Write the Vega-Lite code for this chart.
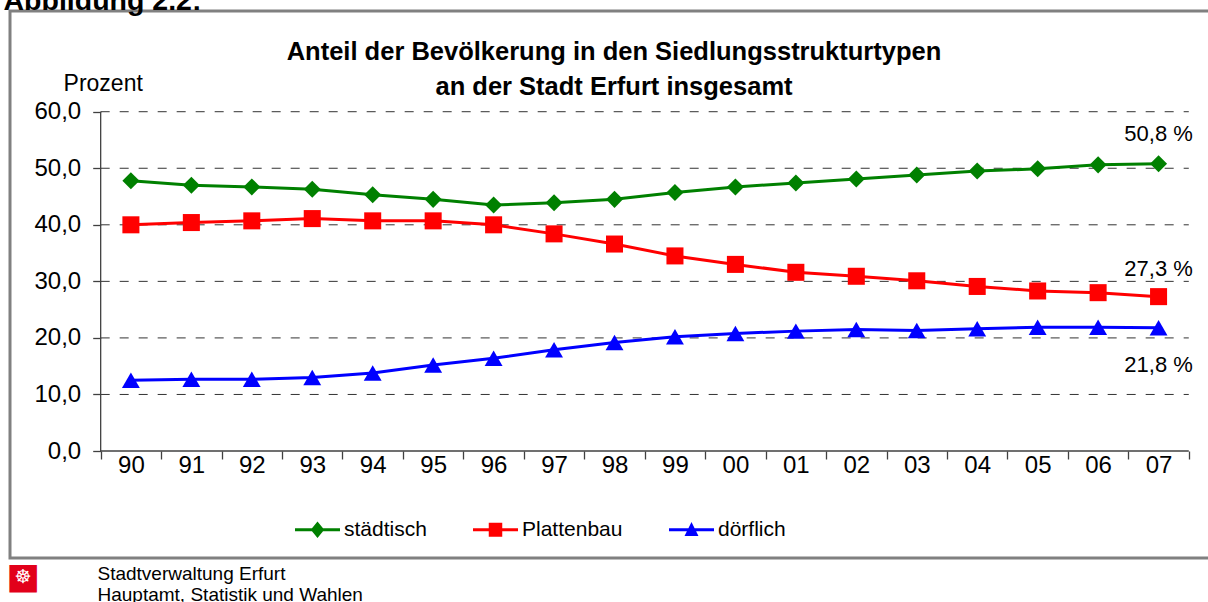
{
  "$schema": "https://vega.github.io/schema/vega-lite/v6.json",
  "width": 1215,
  "height": 547,
  "autosize": {"type": "none"},
  "padding": {"left": 10, "top": 11, "right": 0, "bottom": 44},
  "background": "white",
  "config": {
    "font": "Liberation Sans",
    "view": {"stroke": "#808080", "strokeWidth": 3},
    "locale": {"number": {"decimal": ",", "thousands": ".", "grouping": [3], "currency": ["", " %"]}}
  },
  "title": {
    "text": ["Anteil der Bevölkerung in den Siedlungsstrukturtypen", "an der Stadt Erfurt insgesamt"],
    "font": "Liberation Sans",
    "fontSize": 25.5,
    "fontWeight": "bold",
    "color": "black",
    "anchor": "start",
    "dx": 611,
    "align": "center",
    "lineHeight": 35,
    "offset": -114
  },
  "datasets": {
    "werte": [
      {"jahr": 1990, "typ": "städtisch", "wert": 47.8},
      {"jahr": 1991, "typ": "städtisch", "wert": 47.0},
      {"jahr": 1992, "typ": "städtisch", "wert": 46.7},
      {"jahr": 1993, "typ": "städtisch", "wert": 46.3},
      {"jahr": 1994, "typ": "städtisch", "wert": 45.3},
      {"jahr": 1995, "typ": "städtisch", "wert": 44.5},
      {"jahr": 1996, "typ": "städtisch", "wert": 43.5},
      {"jahr": 1997, "typ": "städtisch", "wert": 43.9},
      {"jahr": 1998, "typ": "städtisch", "wert": 44.5},
      {"jahr": 1999, "typ": "städtisch", "wert": 45.7},
      {"jahr": 2000, "typ": "städtisch", "wert": 46.7},
      {"jahr": 2001, "typ": "städtisch", "wert": 47.4},
      {"jahr": 2002, "typ": "städtisch", "wert": 48.1},
      {"jahr": 2003, "typ": "städtisch", "wert": 48.8},
      {"jahr": 2004, "typ": "städtisch", "wert": 49.5},
      {"jahr": 2005, "typ": "städtisch", "wert": 49.9},
      {"jahr": 2006, "typ": "städtisch", "wert": 50.6},
      {"jahr": 2007, "typ": "städtisch", "wert": 50.8},
      {"jahr": 1990, "typ": "Plattenbau", "wert": 40.0},
      {"jahr": 1991, "typ": "Plattenbau", "wert": 40.4},
      {"jahr": 1992, "typ": "Plattenbau", "wert": 40.7},
      {"jahr": 1993, "typ": "Plattenbau", "wert": 41.1},
      {"jahr": 1994, "typ": "Plattenbau", "wert": 40.7},
      {"jahr": 1995, "typ": "Plattenbau", "wert": 40.7},
      {"jahr": 1996, "typ": "Plattenbau", "wert": 40.0},
      {"jahr": 1997, "typ": "Plattenbau", "wert": 38.4},
      {"jahr": 1998, "typ": "Plattenbau", "wert": 36.6},
      {"jahr": 1999, "typ": "Plattenbau", "wert": 34.5},
      {"jahr": 2000, "typ": "Plattenbau", "wert": 33.0},
      {"jahr": 2001, "typ": "Plattenbau", "wert": 31.6},
      {"jahr": 2002, "typ": "Plattenbau", "wert": 30.9},
      {"jahr": 2003, "typ": "Plattenbau", "wert": 30.1},
      {"jahr": 2004, "typ": "Plattenbau", "wert": 29.1},
      {"jahr": 2005, "typ": "Plattenbau", "wert": 28.3},
      {"jahr": 2006, "typ": "Plattenbau", "wert": 28.0},
      {"jahr": 2007, "typ": "Plattenbau", "wert": 27.3},
      {"jahr": 1990, "typ": "dörflich", "wert": 12.5},
      {"jahr": 1991, "typ": "dörflich", "wert": 12.7},
      {"jahr": 1992, "typ": "dörflich", "wert": 12.7},
      {"jahr": 1993, "typ": "dörflich", "wert": 13.0},
      {"jahr": 1994, "typ": "dörflich", "wert": 13.8},
      {"jahr": 1995, "typ": "dörflich", "wert": 15.2},
      {"jahr": 1996, "typ": "dörflich", "wert": 16.4},
      {"jahr": 1997, "typ": "dörflich", "wert": 17.9},
      {"jahr": 1998, "typ": "dörflich", "wert": 19.2},
      {"jahr": 1999, "typ": "dörflich", "wert": 20.2},
      {"jahr": 2000, "typ": "dörflich", "wert": 20.8},
      {"jahr": 2001, "typ": "dörflich", "wert": 21.2},
      {"jahr": 2002, "typ": "dörflich", "wert": 21.5},
      {"jahr": 2003, "typ": "dörflich", "wert": 21.3},
      {"jahr": 2004, "typ": "dörflich", "wert": 21.6},
      {"jahr": 2005, "typ": "dörflich", "wert": 21.9},
      {"jahr": 2006, "typ": "dörflich", "wert": 21.9},
      {"jahr": 2007, "typ": "dörflich", "wert": 21.8}
    ],
    "gitter": [
      {"wert": 10}, {"wert": 20}, {"wert": 30}, {"wert": 40}, {"wert": 50}, {"wert": 60}
    ]
  },
  "data": {"name": "werte"},
  "layer": [
    {
      "data": {"name": "gitter"},
      "mark": {"type": "rule", "color": "#333333", "strokeWidth": 1, "strokeDash": [9, 10]},
      "encoding": {
        "y": {"field": "wert", "type": "quantitative", "scale": {"domain": [-18.92, 77.81], "nice": false, "zero": false}, "axis": null},
        "x": {
          "datum": 1989.5, "type": "quantitative",
          "scale": {"domain": [1988, 2008.099], "nice": false, "zero": false},
          "axis": {
            "orient": "bottom", "offset": -107,
            "values": [1989.5, 1990.5, 1991.5, 1992.5, 1993.5, 1994.5, 1995.5, 1996.5, 1997.5, 1998.5, 1999.5, 2000.5, 2001.5, 2002.5, 2003.5, 2004.5, 2005.5, 2006.5, 2007.5],
            "labels": false, "ticks": true, "tickSize": 8, "tickColor": "#404040", "tickWidth": 1.3,
            "domain": false, "grid": false, "title": null
          }
        },
        "x2": {"datum": 2007.5}
      }
    },
    {
      "data": {"values": [{"achse": "x"}]},
      "mark": {"type": "rule", "color": "#404040", "strokeWidth": 1.3},
      "encoding": {
        "x": {
          "datum": 1989.5, "type": "quantitative",
          "scale": {"domain": [1988, 2008.099], "nice": false, "zero": false},
          "axis": {
            "orient": "bottom", "offset": -107, "labels": false, "ticks": false, "domain": false, "grid": false,
            "title": "■", "titleFont": "DejaVu Sans", "titleFontSize": 36, "titleFontWeight": "normal",
            "titleColor": "#e2001a", "titleAlign": "center", "titleBaseline": "middle", "titleAngle": 0,
            "titleX": 12.5, "titleY": 125
          }
        },
        "x2": {"datum": 2007.5},
        "y": {"datum": 0, "type": "quantitative", "scale": {"domain": [-18.92, 77.81], "nice": false, "zero": false}, "axis": null}
      }
    },
    {
      "data": {"values": [{"achse": "y"}]},
      "mark": {"type": "rule", "color": "#404040", "strokeWidth": 1.3},
      "encoding": {
        "x": {
          "datum": 1989.5, "type": "quantitative",
          "scale": {"domain": [1988, 2008.099], "nice": false, "zero": false},
          "axis": {
            "orient": "top", "labels": false, "ticks": false, "domain": false, "grid": false,
            "title": "Abbildung 2.2:", "titleFont": "Liberation Sans", "titleFontSize": 28.5, "titleFontWeight": "bold",
            "titleColor": "black", "titleAlign": "left", "titleBaseline": "alphabetic", "titleAngle": 0,
            "titleX": -7, "titleY": -2
          }
        },
        "y": {
          "datum": 0, "type": "quantitative", "scale": {"domain": [-18.92, 77.81], "nice": false, "zero": false},
          "axis": {
            "orient": "left", "offset": 0, "labels": false, "ticks": false, "domain": false, "grid": false,
            "title": "☸", "titleFont": "DejaVu Sans", "titleFontSize": 19, "titleFontWeight": "normal",
            "titleColor": "white", "titleAlign": "center", "titleBaseline": "middle", "titleAngle": 0,
            "titleX": 12.5, "titleY": 565
          }
        },
        "y2": {"datum": 60}
      }
    },
    {
      "mark": {"type": "line", "strokeWidth": 3},
      "encoding": {
        "x": {
          "field": "jahr", "type": "quantitative",
          "scale": {"domain": [1988, 2008.099], "nice": false, "zero": false},
          "axis": {
            "orient": "bottom", "offset": -107,
            "values": [1990, 1991, 1992, 1993, 1994, 1995, 1996, 1997, 1998, 1999, 2000, 2001, 2002, 2003, 2004, 2005, 2006, 2007],
            "labelExpr": "slice(toString(datum.value), 2)",
            "ticks": false, "domain": false, "grid": false,
            "labelFont": "Liberation Sans", "labelFontSize": 24, "labelColor": "black", "labelPadding": 2,
            "labelFlush": false, "labelOverlap": false,
            "title": ["Stadtverwaltung Erfurt", "Hauptamt, Statistik und Wahlen"],
            "titleFont": "Liberation Sans", "titleFontSize": 19, "titleFontWeight": "normal", "titleColor": "black",
            "titleAlign": "left", "titleBaseline": "top", "titleLineHeight": 21,
            "titleX": 87, "titleY": 113
          }
        },
        "y": {
          "field": "wert", "type": "quantitative",
          "scale": {"domain": [-18.92, 77.81], "nice": false, "zero": false},
          "axis": {
            "orient": "left", "offset": -90.7,
            "values": [0, 10, 20, 30, 40, 50, 60], "format": ".1f",
            "domain": false, "grid": false, "ticks": true, "tickSize": 8, "tickColor": "#404040", "tickWidth": 1.3,
            "labelFont": "Liberation Sans", "labelFontSize": 24, "labelColor": "black", "labelPadding": 12,
            "title": "Prozent", "titleFont": "Liberation Sans", "titleFontSize": 23, "titleFontWeight": "normal",
            "titleColor": "black", "titleAngle": 0, "titleAlign": "center", "titleBaseline": "middle",
            "titleX": 2, "titleY": 72
          }
        },
        "color": {
          "field": "typ", "type": "nominal",
          "scale": {"domain": ["städtisch", "Plattenbau", "dörflich"], "range": ["#008000", "#ff0000", "#0000ff"]},
          "legend": {
            "orient": "none", "legendX": 285, "legendY": 496, "direction": "horizontal", "title": null,
            "padding": 0, "labelFont": "Liberation Sans", "labelFontSize": 21, "labelColor": "black",
            "labelOffset": 4, "columnPadding": 46, "symbolSize": 2025, "symbolStrokeWidth": 0
          }
        }
      }
    },
    {
      "transform": [{"filter": "datum.jahr < 0"}],
      "mark": {"type": "point", "filled": true, "opacity": 1},
      "encoding": {
        "x": {"field": "jahr", "type": "quantitative", "scale": {"domain": [1988, 2008.099], "nice": false, "zero": false}, "axis": null},
        "y": {"field": "wert", "type": "quantitative", "scale": {"domain": [-18.92, 77.81], "nice": false, "zero": false}, "axis": null},
        "color": {"field": "typ", "type": "nominal", "scale": {"domain": ["städtisch", "Plattenbau", "dörflich"], "range": ["#008000", "#ff0000", "#0000ff"]}},
        "shape": {
          "field": "typ", "type": "nominal",
          "scale": {
            "domain": ["städtisch", "Plattenbau", "dörflich"],
            "range": [
              "M-1,-0.065H1V0.065H-1Z M-0.3,0L0,-0.37L0.3,0L0,0.37Z",
              "M-1,-0.065H1V0.065H-1Z M-0.3,-0.31H0.3V0.31H-0.3Z",
              "M-1,-0.065H1V0.065H-1Z M0,-0.34L0.31,0.28L-0.31,0.28Z"
            ]
          }
        }
      }
    },
    {
      "transform": [{"filter": "datum.typ === 'städtisch'"}],
      "mark": {"type": "point", "filled": true, "opacity": 1, "size": 290, "shape": "diamond"},
      "encoding": {
        "x": {"field": "jahr", "type": "quantitative", "scale": {"domain": [1988, 2008.099], "nice": false, "zero": false}, "axis": null},
        "y": {"field": "wert", "type": "quantitative", "scale": {"domain": [-18.92, 77.81], "nice": false, "zero": false}, "axis": null},
        "color": {"field": "typ", "type": "nominal", "scale": {"domain": ["städtisch", "Plattenbau", "dörflich"], "range": ["#008000", "#ff0000", "#0000ff"]}}
      }
    },
    {
      "transform": [{"filter": "datum.typ === 'Plattenbau'"}],
      "mark": {"type": "point", "filled": true, "opacity": 1, "size": 290, "shape": "square"},
      "encoding": {
        "x": {"field": "jahr", "type": "quantitative", "scale": {"domain": [1988, 2008.099], "nice": false, "zero": false}, "axis": null},
        "y": {"field": "wert", "type": "quantitative", "scale": {"domain": [-18.92, 77.81], "nice": false, "zero": false}, "axis": null},
        "color": {"field": "typ", "type": "nominal", "scale": {"domain": ["städtisch", "Plattenbau", "dörflich"], "range": ["#008000", "#ff0000", "#0000ff"]}}
      }
    },
    {
      "transform": [{"filter": "datum.typ === 'dörflich'"}],
      "mark": {"type": "point", "filled": true, "opacity": 1, "size": 320, "shape": "triangle-up"},
      "encoding": {
        "x": {"field": "jahr", "type": "quantitative", "scale": {"domain": [1988, 2008.099], "nice": false, "zero": false}, "axis": null},
        "y": {"field": "wert", "type": "quantitative", "scale": {"domain": [-18.92, 77.81], "nice": false, "zero": false}, "axis": null},
        "color": {"field": "typ", "type": "nominal", "scale": {"domain": ["städtisch", "Plattenbau", "dörflich"], "range": ["#008000", "#ff0000", "#0000ff"]}}
      }
    },
    {
      "transform": [{"filter": "datum.jahr === 2007 && datum.typ === 'städtisch'"}],
      "mark": {"type": "text", "font": "Liberation Sans", "fontSize": 22, "color": "black", "align": "center", "baseline": "middle", "dy": -30},
      "encoding": {
        "x": {"field": "jahr", "type": "quantitative", "scale": {"domain": [1988, 2008.099], "nice": false, "zero": false}, "axis": null},
        "y": {"field": "wert", "type": "quantitative", "scale": {"domain": [-18.92, 77.81], "nice": false, "zero": false}, "axis": null},
        "text": {"field": "wert", "type": "quantitative", "format": "$.1f"}
      }
    },
    {
      "transform": [{"filter": "datum.jahr === 2007 && datum.typ === 'Plattenbau'"}],
      "mark": {"type": "text", "font": "Liberation Sans", "fontSize": 22, "color": "black", "align": "center", "baseline": "middle", "dy": -28},
      "encoding": {
        "x": {"field": "jahr", "type": "quantitative", "scale": {"domain": [1988, 2008.099], "nice": false, "zero": false}, "axis": null},
        "y": {"field": "wert", "type": "quantitative", "scale": {"domain": [-18.92, 77.81], "nice": false, "zero": false}, "axis": null},
        "text": {"field": "wert", "type": "quantitative", "format": "$.1f"}
      }
    },
    {
      "transform": [{"filter": "datum.jahr === 2007 && datum.typ === 'dörflich'"}],
      "mark": {"type": "text", "font": "Liberation Sans", "fontSize": 22, "color": "black", "align": "center", "baseline": "middle", "dy": 37},
      "encoding": {
        "x": {"field": "jahr", "type": "quantitative", "scale": {"domain": [1988, 2008.099], "nice": false, "zero": false}, "axis": null},
        "y": {"field": "wert", "type": "quantitative", "scale": {"domain": [-18.92, 77.81], "nice": false, "zero": false}, "axis": null},
        "text": {"field": "wert", "type": "quantitative", "format": "$.1f"}
      }
    }
  ],
  "resolve": {"axis": {"x": "independent", "y": "independent"}}
}
